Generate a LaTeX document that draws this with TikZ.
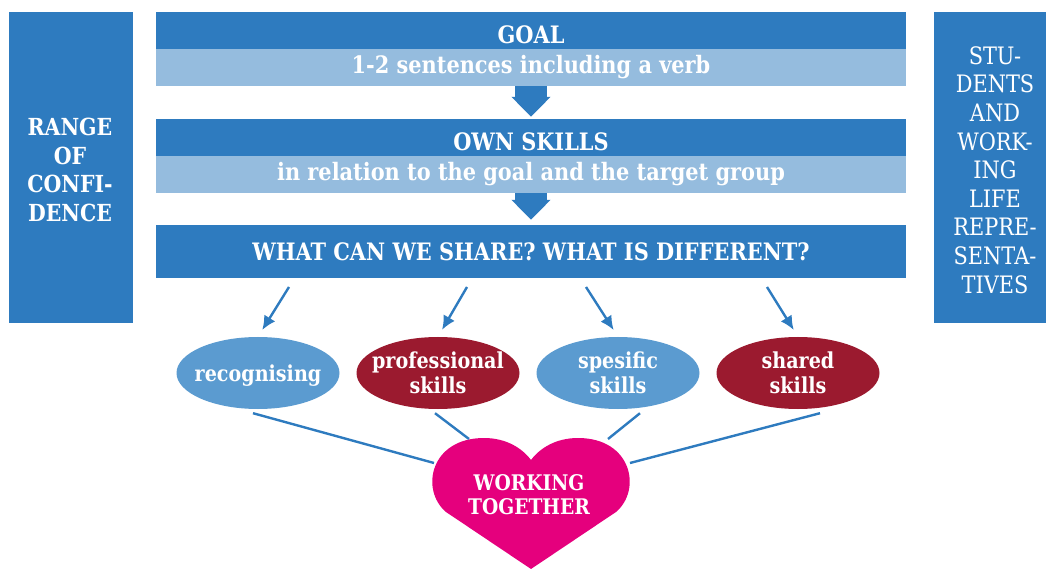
\documentclass[tikz,border=0pt]{standalone}
\usepackage{fontspec}
\setmainfont{DejaVu Serif}[FakeStretch=0.87]
\usetikzlibrary{arrows.meta,shapes.geometric}

\definecolor{bardark}{HTML}{2E7BBF}
\definecolor{barlight}{HTML}{95BCDE}
\definecolor{ellblue}{HTML}{5B9BD0}
\definecolor{ellred}{HTML}{9B1A2F}
\definecolor{heartpink}{HTML}{E5007D}

\tikzset{
  darkbar/.style={fill=bardark, text=white, font=\bfseries\fontsize{24}{28}\selectfont,
    minimum width=750pt, minimum height=37pt, inner sep=0pt, text height=27pt, text depth=0pt},
  lightbar/.style={fill=barlight, text=white, font=\bfseries\fontsize{24}{28}\selectfont,
    minimum width=750pt, minimum height=37pt, inner sep=0pt},
  sidebox/.style={fill=bardark, text=white, align=center, inner sep=0pt},
  skill/.style={ellipse, minimum width=163pt, minimum height=72pt, inner sep=0pt},
  skilltext/.style={text=white, align=center, font=\bfseries\fontsize{22}{25}\selectfont},
  flowarrow/.style={bardark, line width=32pt, -{Triangle[length=20pt,width=38pt]}},
  skillarrow/.style={bardark, line width=2.4pt, -{Latex[length=14pt,width=13pt]}},
  tieline/.style={bardark, line width=2.4pt}
}

\begin{document}
\begin{tikzpicture}[x=1pt,y=-1pt]
\useasboundingbox (0,0) rectangle (1050,569);

% side boxes
\node[sidebox, minimum width=124pt, minimum height=311pt] (range) at (71,167.5) {};
\node[text=white, align=center, font=\bfseries\fontsize{23.5}{28.5}\selectfont] (rangetxt) at (70,170) {RANGE\\OF\\CONFI-\\DENCE};
\node[sidebox, minimum width=112pt, minimum height=311pt] (reps) at (990,167.5) {};
\node[text=white, align=center, font=\fontsize{24}{28.6}\selectfont] (repstxt) at (995,170) {STU-\\DENTS\\AND\\WORK-\\ING\\LIFE\\REPRE-\\SENTA-\\TIVES};

% bars
\node[darkbar] (goal) at (531,30.5) {GOAL};
\node[lightbar] (goalsub) at (531,67.5) {1-2 sentences including a verb};
\node[darkbar] (own) at (531,137.5) {OWN SKILLS};
\node[lightbar] (ownsub) at (531,174.5) {in relation to the goal and the target group};
\node[darkbar, minimum height=53pt, text height=19pt] (share) at (531,251.5) {WHAT CAN WE SHARE? WHAT IS DIFFERENT?};

\draw[flowarrow, shorten >=2pt] (goalsub.south) -- (own.north);
\draw[flowarrow, shorten >=5pt] (ownsub.south) -- (share.north);

% skills
\node[skill, fill=ellblue] (recog) at (258,373) {};
\node[skilltext] (recogtxt) at ([yshift=-3pt]recog.center) {recognising};
\node[skill, fill=ellred] (prof) at (438,373) {};
\node[skilltext] (proftxt) at (prof) {professional\\skills};
\node[skill, fill=ellblue] (spes) at (618,373) {};
\node[skilltext] (spestxt) at (spes) {spesific\\skills};
\node[skill, fill=ellred] (shared) at (798,373) {};
\node[skilltext] (sharedtxt) at (shared) {shared\\skills};

\coordinate (s1) at (289,287);
\coordinate (s2) at (467,287);
\coordinate (s3) at (586,287);
\coordinate (s4) at (767,287);
\draw[skillarrow, shorten >=8pt] (s1) -- (recog.north);
\draw[skillarrow, shorten >=8pt] (s2) -- (prof.north);
\draw[skillarrow, shorten >=8pt] (s3) -- (spes.north);
\draw[skillarrow, shorten >=8pt] (s4) -- (shared.north);

% heart
\fill[heartpink] (531,569) -- (446,512) .. controls (420,490) and (430,438) .. (484,438)
  .. controls (506,438) and (522,448) .. (531,460)
  .. controls (540,448) and (556,438) .. (578,438)
  .. controls (632,438) and (642,490) .. (616,512) -- cycle;
\node[text=white, align=center, font=\bfseries\fontsize{21.5}{24}\selectfont] (heart) at (529,495) {WORKING\\TOGETHER};

\coordinate (h1) at (434,463);
\coordinate (h2) at (469,439);
\coordinate (h3) at (608,439);
\coordinate (h4) at (630,463);
\draw[tieline] ([xshift=-5pt,yshift=-4pt]recog.south) -- (h1);
\draw[tieline] ([xshift=-3pt,yshift=-4pt]prof.south) -- (h2);
\draw[tieline] ([xshift=22pt,yshift=-4pt]spes.south) -- (h3);
\draw[tieline] ([xshift=22pt,yshift=-4pt]shared.south) -- (h4);
\end{tikzpicture}
\end{document}
